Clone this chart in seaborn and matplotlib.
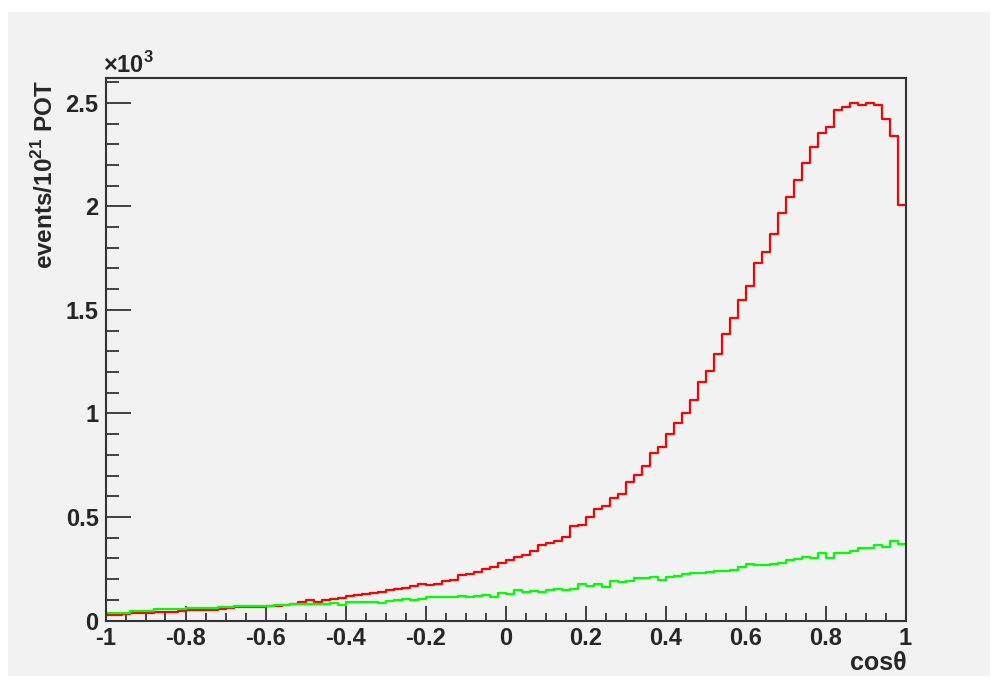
import numpy as np
import pandas as pd
import matplotlib
matplotlib.use("Agg")
import matplotlib.pyplot as plt
from matplotlib.patches import Rectangle
from matplotlib.ticker import MultipleLocator
import seaborn as sns

# cos(theta) binning: 100 bins on [-1, 1]
n_bins = 100
bin_range = (-1.0, 1.0)
bin_edges = np.linspace(bin_range[0], bin_range[1], n_bins + 1)
bin_centers = 0.5 * (bin_edges[:-1] + bin_edges[1:])

# events / 1e21 POT per bin
red_counts = [
    28, 28, 30, 34, 35, 36, 40, 42, 43, 48,
    52, 52, 53, 52, 56, 60, 63, 64, 65, 66,
    70, 72, 76, 82, 88, 99, 91, 98, 102, 109,
    117, 122, 127, 134, 139, 146, 152, 158, 167, 178,
    170, 178, 191, 197, 218, 226, 234, 249, 258, 279,
    294, 307, 315, 334, 365, 376, 384, 405, 455, 461,
    501, 537, 552, 593, 613, 669, 703, 746, 809, 837,
    899, 954, 1004, 1065, 1150, 1205, 1289, 1386, 1463, 1547,
    1616, 1727, 1782, 1867, 1970, 2047, 2125, 2209, 2289, 2354,
    2381, 2465, 2479, 2498, 2492, 2498, 2492, 2421, 2339, 2006,
]
green_counts = [
    38, 38, 38, 47, 48, 48, 56, 57, 57, 54,
    59, 59, 60, 60, 64, 65, 70, 71, 71, 71,
    72, 76, 73, 78, 78, 78, 78, 78, 85, 76,
    89, 89, 89, 89, 86, 94, 101, 105, 99, 105,
    112, 112, 112, 112, 118, 112, 117, 123, 112, 134,
    126, 147, 136, 142, 136, 147, 154, 149, 154, 175,
    168, 176, 162, 189, 184, 191, 204, 204, 210, 196,
    210, 217, 225, 228, 228, 234, 239, 239, 244, 258,
    273, 267, 267, 275, 279, 292, 299, 307, 300, 328,
    300, 328, 328, 334, 349, 349, 363, 357, 384, 370,
]

x_ticks = [-1.0, -0.8, -0.6, -0.4, -0.2, 0.0, 0.2, 0.4, 0.6, 0.8, 1.0]
x_tick_labels = ["-1", "-0.8", "-0.6", "-0.4", "-0.2", "0", "0.2", "0.4", "0.6", "0.8", "1"]
y_ticks = [0, 500, 1000, 1500, 2000, 2500]
y_tick_labels = ["0", "0.5", "1", "1.5", "2", "2.5"]

df = pd.DataFrame({
    "cos": np.concatenate([bin_centers, bin_centers]),
    "events": np.concatenate([red_counts, green_counts]).astype(float),
    "sample": ["red"] * n_bins + ["green"] * n_bins,
})

sns.set_style("ticks")
plt.rcParams["font.family"] = ["Liberation Sans", "DejaVu Sans"]
plt.rcParams["mathtext.fontset"] = "custom"
plt.rcParams["mathtext.rm"] = "Liberation Sans"
plt.rcParams["mathtext.bf"] = "Liberation Sans:bold"

W, H = 998, 684
fig = plt.figure(figsize=(W / 100, H / 100), dpi=100, facecolor="white")
fig.patches.append(Rectangle((8 / W, 8 / H), 982 / W, 664 / H,
                             transform=fig.transFigure, facecolor="#f2f2f2",
                             edgecolor="none", zorder=-10))

ax = fig.add_axes([105.5 / W, 1 - 620.5 / H, 800 / W, 542.5 / H])
ax.set_facecolor("#f2f2f2")

for name, color in [("red", "#ff0000"), ("green", "#00ff00")]:
    sub = df[df["sample"] == name]
    sns.histplot(data=sub, x="cos", weights="events", bins=n_bins,
                 binrange=bin_range, element="step", fill=False,
                 color=color, linewidth=1.6, ax=ax)

ax.set_xlim(-1, 1)
ax.set_ylim(0, 2620)

for side in ["left", "bottom", "top", "right"]:
    ax.spines[side].set_visible(True)
    ax.spines[side].set_color("#333333")
    ax.spines[side].set_linewidth(1.5)

ax.set_xticks(x_ticks, x_tick_labels)
ax.set_yticks(y_ticks, y_tick_labels)
ax.xaxis.set_minor_locator(MultipleLocator(0.05))
ax.yaxis.set_minor_locator(MultipleLocator(100))

ax.tick_params(axis="x", which="major", direction="in", length=11, width=1.3,
               color="#333333", pad=5, labelsize=17)
ax.tick_params(axis="x", which="minor", direction="in", length=6, width=1.3,
               color="#333333")
ax.tick_params(axis="y", which="major", direction="in", length=18, width=1.3,
               color="#333333", pad=5, labelsize=17)
ax.tick_params(axis="y", which="minor", direction="in", length=9, width=1.3,
               color="#333333")
for lab in ax.get_xticklabels() + ax.get_yticklabels():
    lab.set_fontweight("bold")

ax.set_xlabel("")
ax.set_ylabel("")
fig.text(45 / W, 1 - 80 / H, r"events/10$^{\mathbf{21}}$ POT", rotation=90,
         ha="center", va="top", fontsize=17.5, fontweight="bold")
fig.text(907 / W, 1 - 675 / H, "cosθ", ha="right", va="bottom",
         fontsize=18, fontweight="bold")
fig.text(103 / W, 1 - 73 / H, r"×10$^{\mathbf{3}}$", ha="left", va="baseline",
         fontsize=17, fontweight="bold")

fig.savefig("out.png", dpi=100, facecolor=fig.get_facecolor())
